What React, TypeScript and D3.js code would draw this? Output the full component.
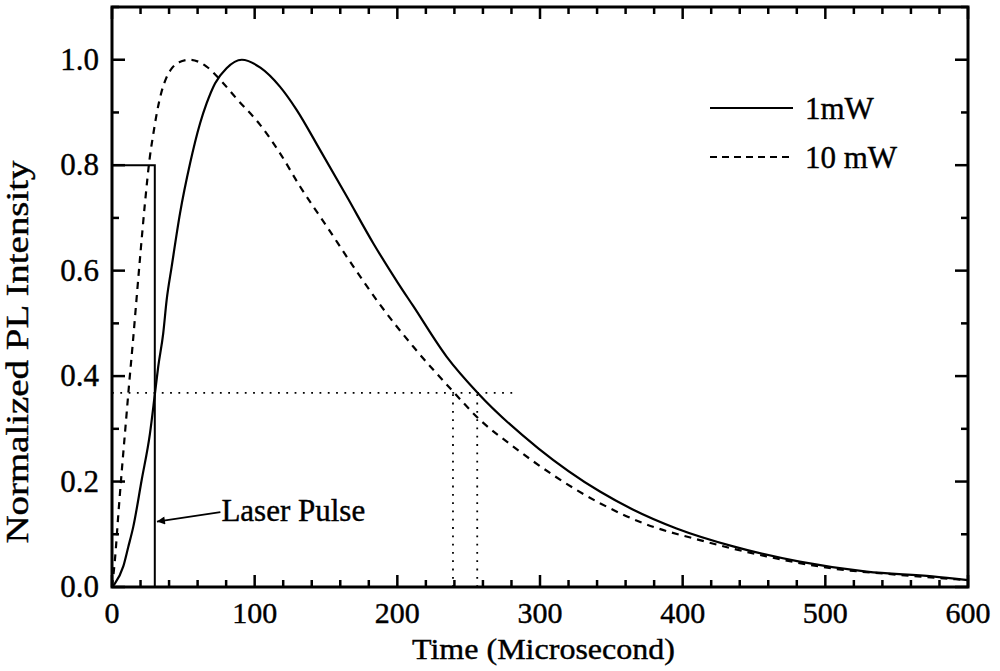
import React, { useEffect, useRef } from "react";
import * as d3 from "d3";

// 1 mW excitation (solid)
const time1mW = [0, 2.1, 7.9, 11.4, 14.9, 20.8, 26.6, 30.1, 32.4, 35.9, 38.3, 41.8, 47.7, 54.7, 61.7, 66.3, 72.2, 80.3, 91, 104, 117.7, 129.4, 145.8, 164.5, 183.1, 200.6, 211.1, 234.5, 256.7, 298.8, 342, 365, 395.7, 435.4, 482, 528.9, 575, 600];
const pl1mW = [0, 0.007, 0.039, 0.076, 0.114, 0.203, 0.291, 0.367, 0.418, 0.481, 0.544, 0.607, 0.709, 0.803, 0.879, 0.917, 0.955, 0.984, 1.0, 0.985, 0.949, 0.905, 0.829, 0.741, 0.652, 0.576, 0.533, 0.437, 0.367, 0.263, 0.181, 0.147, 0.111, 0.077, 0.048, 0.029, 0.02, 0.013];

// 10 mW excitation (dashed)
const time10mW = [0, 2, 4.5, 7, 9.5, 12, 14.5, 17, 20, 23, 26.5, 29, 31.5, 34.5, 38, 42, 47, 54.7, 66.3, 76.8, 87.4, 103.7, 117.7, 131.7, 150.5, 169.1, 188, 211.1, 238, 257.9, 280, 342, 372.3, 412, 458.8, 505.5, 552, 600];
const pl10mW = [0, 0.05, 0.14, 0.225, 0.305, 0.385, 0.46, 0.54, 0.635, 0.725, 0.815, 0.86, 0.9, 0.937, 0.965, 0.984, 0.995, 1.0, 0.987, 0.959, 0.926, 0.877, 0.823, 0.76, 0.684, 0.608, 0.535, 0.456, 0.374, 0.317, 0.269, 0.159, 0.121, 0.089, 0.058, 0.035, 0.023, 0.013];

const xTicks = [0, 100, 200, 300, 400, 500, 600];
const xMinorTicks = d3.range(0, 601, 20);
const yTicks = [0, 0.2, 0.4, 0.6, 0.8, 1.0];
const yMinorTicks = [0, 0.1, 0.2, 0.3, 0.4, 0.5, 0.6, 0.7, 0.8, 0.9, 1.0, 1.1];

const pulseWidth = 30;
const pulseHeight = 0.8;
const eLevel = 0.368;
const eLevelEnd = 282;
const crossTimes = [239, 256];
const legendLabels = ["1mW", "10 mW"];
const arrowFrom = [76, 0.142];
const arrowTo = [31.5, 0.124];

export default function App() {
  const ref = useRef<SVGSVGElement>(null);

  useEffect(() => {
    const width = 1000, height = 671;
    const font = "'Liberation Serif', 'Times New Roman', serif";

    const svg = d3.select(ref.current);
    svg.selectAll("*").remove();
    svg.attr("width", width).attr("height", height);

    const x = d3.scaleLinear().domain([0, 600]).range([112, 968]);
    const y = d3.scaleLinear().domain([0, 1.1]).range([587, 7]);

    svg.append("rect").attr("width", width).attr("height", height).attr("fill", "#fff");

    const defs = svg.append("defs");
    defs.append("marker")
      .attr("id", "arrow")
      .attr("viewBox", "0 0 10 10")
      .attr("refX", 10).attr("refY", 5)
      .attr("markerWidth", 14).attr("markerHeight", 8)
      .attr("markerUnits", "userSpaceOnUse")
      .attr("orient", "auto")
      .append("path").attr("d", "M0,0L10,5L0,10Z").attr("fill", "#000");

    // dotted 1/e guide lines
    svg.append("line")
      .attr("x1", x(0)).attr("x2", x(eLevelEnd))
      .attr("y1", y(eLevel)).attr("y2", y(eLevel))
      .attr("stroke", "#000").attr("stroke-width", 1.8)
      .attr("stroke-dasharray", "1.8,6.5");
    crossTimes.forEach(t => {
      svg.append("line")
        .attr("x1", x(t)).attr("x2", x(t))
        .attr("y1", y(0)).attr("y2", y(eLevel))
        .attr("stroke", "#000").attr("stroke-width", 1.8)
        .attr("stroke-dasharray", "1.8,6.5");
    });

    // laser pulse
    svg.append("path")
      .attr("d", `M${x(0)},${y(pulseHeight)}H${x(pulseWidth)}V${y(0)}`)
      .attr("fill", "none").attr("stroke", "#000").attr("stroke-width", 2);

    const line = d3.line<number>()
      .x(d => x(d))
      .curve(d3.curveMonotoneX);

    svg.append("path")
      .attr("d", line.y((_, i) => y(pl1mW[i]))(time1mW))
      .attr("fill", "none").attr("stroke", "#000").attr("stroke-width", 2.2);

    svg.append("path")
      .attr("d", line.y((_, i) => y(pl10mW[i]))(time10mW))
      .attr("fill", "none").attr("stroke", "#000").attr("stroke-width", 2.2)
      .attr("stroke-dasharray", "7,6");

    // frame
    svg.append("rect")
      .attr("x", x(0)).attr("y", y(1.1))
      .attr("width", x(600) - x(0)).attr("height", y(0) - y(1.1))
      .attr("fill", "none").attr("stroke", "#000").attr("stroke-width", 3);

    const ticks = svg.append("g").attr("stroke", "#000").attr("stroke-width", 2.5);
    xMinorTicks.forEach(t => {
      const len = xTicks.includes(t) ? 12 : 7;
      ticks.append("line").attr("x1", x(t)).attr("x2", x(t)).attr("y1", y(0)).attr("y2", y(0) - len);
      ticks.append("line").attr("x1", x(t)).attr("x2", x(t)).attr("y1", y(1.1)).attr("y2", y(1.1) + len);
    });
    yMinorTicks.forEach(v => {
      const len = yTicks.some(m => Math.abs(m - v) < 1e-9) ? 13 : 7;
      ticks.append("line").attr("x1", x(0)).attr("x2", x(0) + len).attr("y1", y(v)).attr("y2", y(v));
      ticks.append("line").attr("x1", x(600)).attr("x2", x(600) - len).attr("y1", y(v)).attr("y2", y(v));
    });

    const textStyle = (sel: any) => sel
      .attr("font-family", font)
      .attr("fill", "#000")
      .attr("stroke", "#000")
      .attr("stroke-width", 0.4);

    svg.append("g").selectAll("text")
      .data(xTicks).enter().append("text")
      .attr("x", d => x(d)).attr("y", 623)
      .attr("text-anchor", "middle")
      .attr("font-size", 30)
      .call(textStyle)
      .text(d => d);

    svg.append("g").selectAll("text")
      .data(yTicks).enter().append("text")
      .attr("x", 99).attr("y", d => y(d) + 10)
      .attr("text-anchor", "end")
      .attr("font-size", 31)
      .call(textStyle)
      .text(d => d.toFixed(1));

    svg.append("text")
      .attr("x", 412).attr("y", 659)
      .attr("font-size", 30)
      .attr("textLength", 263).attr("lengthAdjust", "spacingAndGlyphs")
      .call(textStyle)
      .text("Time (Microsecond)");

    svg.append("text")
      .attr("transform", "translate(28,352) rotate(-90)")
      .attr("text-anchor", "middle")
      .attr("font-size", 32)
      .attr("textLength", 383).attr("lengthAdjust", "spacingAndGlyphs")
      .call(textStyle)
      .text("Normalized PL Intensity");

    // annotation
    svg.append("line")
      .attr("x1", x(arrowFrom[0])).attr("y1", y(arrowFrom[1]))
      .attr("x2", x(arrowTo[0])).attr("y2", y(arrowTo[1]))
      .attr("stroke", "#000").attr("stroke-width", 2)
      .attr("marker-end", "url(#arrow)");
    svg.append("text")
      .attr("x", x(arrowFrom[0]) + 1).attr("y", 521)
      .attr("font-size", 31)
      .call(textStyle)
      .text("Laser Pulse");

    // legend
    const legend = svg.append("g");
    legendLabels.forEach((label, i) => {
      const ly = 108 + i * 49;
      legend.append("line")
        .attr("x1", 710).attr("x2", 793).attr("y1", ly).attr("y2", ly)
        .attr("stroke", "#000").attr("stroke-width", 2.2)
        .attr("stroke-dasharray", i === 1 ? "7,5" : null);
      legend.append("text")
        .attr("x", 805).attr("y", ly + 11)
        .attr("font-size", 31)
        .call(textStyle)
        .text(label);
    });
  }, []);

  return <svg ref={ref} style={{ position: "absolute", left: 0, top: 0 }} />;
}
